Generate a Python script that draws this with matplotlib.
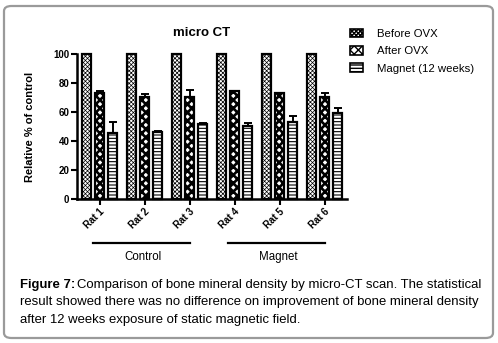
import matplotlib
matplotlib.use("Agg")
import matplotlib.pyplot as plt
import numpy as np
from matplotlib.patches import FancyBboxPatch, Patch

plt.rcParams['font.family'] = ['Liberation Sans', 'DejaVu Sans']

rats = ["Rat 1", "Rat 2", "Rat 3", "Rat 4", "Rat 5", "Rat 6"]
series = ["Before OVX", "After OVX", "Magnet (12 weeks)"]
before = [100, 100, 100, 100, 100, 100]
before_err = [0, 0, 0, 0, 0, 0]
after = [73.3, 70.6, 70.5, 74.7, 73.3, 70.6]
after_err = [1.4, 1.6, 5.0, 0, 0, 2.2]
magnet = [45.7, 46.2, 52.0, 50.2, 52.8, 59.5]
magnet_err = [7.3, 0.6, 0.4, 2.2, 4.6, 3.0]
groups = ["Control", "Magnet"]
group_members = [[0, 1, 2], [3, 4, 5]]

fig = plt.figure(figsize=(4.98, 3.43), dpi=100)
border = FancyBboxPatch((4/498, 5/343), 489/498, 332/343,
                        boxstyle="round,pad=0,rounding_size=0.015",
                        transform=fig.transFigure, facecolor='none',
                        edgecolor='#9a9a9a', linewidth=1.6, zorder=-1)
fig.patches.append(border)

ax = fig.add_axes([77/498, 1-199/343, 270/498, 145/343])
ax.set_facecolor('none')
x = np.arange(len(rats))
w = 0.2
off = 0.29
hatches = ['xxxxxxxx', 'xxxx', '-----']
hlw = [0.5, 1.9, 0.8]
allvals = [before, after, magnet]
allerrs = [before_err, after_err, magnet_err]
handles = []
for i, (vals, errs) in enumerate(zip(allvals, allerrs)):
    bars = ax.bar(x + (i-1)*off, vals, w, color='white', edgecolor='black',
                  linewidth=1.6, hatch=hatches[i], zorder=2, clip_on=False)
    for b in bars:
        if hasattr(b, 'set_hatch_linewidth'):
            b.set_hatch_linewidth(hlw[i])
    ax.errorbar(x + (i-1)*off, vals, yerr=[[0]*len(vals), errs], fmt='none',
                ecolor='black', elinewidth=1.4, capsize=3, capthick=1.4, zorder=3)
    p = Patch(facecolor='white', edgecolor='black', hatch=hatches[i], linewidth=1.2)
    if hasattr(p, 'set_hatch_linewidth'):
        p.set_hatch_linewidth(hlw[i])
    handles.append(p)

ax.set_xlim(-0.5, 5.5)
ax.set_ylim(0, 100)
ax.set_yticks([0, 20, 40, 60, 80, 100])
ax.set_yticklabels(['0', '20', '40', '60', '80', '100'], fontsize=7, fontweight='bold')
ax.set_xticks(x)
ax.set_xticklabels(rats, rotation=45, ha='right', rotation_mode='anchor',
                   fontsize=7, fontweight='bold')
for s in ['top', 'right']:
    ax.spines[s].set_visible(False)
for s in ['left', 'bottom']:
    ax.spines[s].set_linewidth(1.8)
ax.tick_params(axis='both', width=1.5, length=4, pad=1.5)
ax.set_ylabel("Relative % of control", fontsize=8, fontweight='bold', labelpad=13)
ax.set_title("micro CT", fontsize=9.5, fontweight='bold', pad=13, x=0.46)

# group brackets
for g, members in zip(groups, group_members):
    x0 = min(members) - 0.15
    x1 = max(members) + 0.0
    trans = ax.get_xaxis_transform()
    ax.plot([x0, x1], [-0.30, -0.30], color='black', lw=1.6, transform=trans, clip_on=False)
    ax.text((x0 + x1) / 2 + 0.05, -0.36, g, transform=trans, ha='center', va='top', fontsize=8.3)

fig.legend(handles, series, loc='upper left', bbox_to_anchor=(345/498, 1-24/343),
           frameon=False, fontsize=8.2, handlelength=1.2, handleheight=0.8,
           handletextpad=1.2, labelspacing=0.62, borderaxespad=0)

# caption
fs = 9.45
t1 = fig.text(20/498, 1-285/343, "Figure 7:", fontsize=fs, fontweight='bold', va='center')
fig.canvas.draw()
bb = t1.get_window_extent()
fig.text(bb.x1/498 + 2/498, 1-285/343,
         "Comparison of bone mineral density by micro-CT scan. The statistical",
         fontsize=fs, va='center')
fig.text(20/498, 1-302.5/343,
         "result showed there was no difference on improvement of bone mineral density",
         fontsize=fs, va='center')
fig.text(20/498, 1-320/343, "after 12 weeks exposure of static magnetic field.",
         fontsize=fs, va='center')

fig.savefig("out.png", dpi=100)
